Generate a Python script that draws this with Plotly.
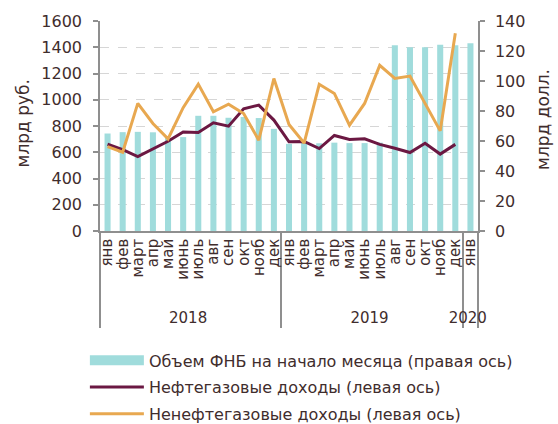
import plotly.graph_objects as go

# ---- data ----
years = ['2018'] * 12 + ['2019'] * 12 + ['2020']
months = ['янв', 'фев', 'март', 'апр', 'май', 'июнь', 'июль', 'авг', 'сен', 'окт', 'нояб', 'дек'] * 2 + ['янв']

# Объем ФНБ на начало месяца, млрд долл. (правая ось)
nwf_usd = [65.0, 65.9, 66.1, 65.8, 62.0, 62.6, 76.8, 76.8, 75.5, 76.0, 75.3, 68.1,
           58.1, 58.8, 58.5, 58.9, 58.6, 58.6, 58.9, 123.8, 122.5, 122.5, 124.2, 123.8,
           125.1]

# Нефтегазовые доходы, млрд руб. (левая ось)
oil_gas = [661, 620, 567, 628, 684, 755, 750, 824, 799, 931, 959, 845,
           680, 682, 628, 728, 697, 702, 660, 630, 598, 669, 586, 660]

# Ненефтегазовые доходы, млрд руб. (левая ось)
non_oil_gas = [643, 600, 972, 819, 702, 940, 1119, 908, 966, 895, 692, 1162,
               812, 670, 1118, 1048, 806, 972, 1262, 1162, 1180, 972, 763, 1506]

names = ['Объем ФНБ на начало месяца (правая ось)',
         'Нефтегазовые доходы (левая ось)',
         'Ненефтегазовые доходы (левая ось)']
axis_titles = ['млрд руб.', 'млрд долл.']

FONT = 'DejaVu Sans'
TXT = '#3f2d2d'
AX = '#8f8f8f'
BAR_C = '#a0dcdc'

# leading no-break spaces lengthen the rotated month labels' box downward,
# which pushes the year row lower (as in the original); visible text unchanged
PAD = '\u00a0' * 3
month_lbl = [PAD + m for m in months]
x_all = [years, month_lbl]
x_lines = [years[:len(oil_gas)], month_lbl[:len(oil_gas)]]

fig = go.Figure()
fig.add_trace(go.Bar(x=x_all, y=nwf_usd, name=names[0], yaxis='y', showlegend=False,
                     marker=dict(color=BAR_C, line=dict(width=0)), width=0.4))
# legend entry for the bars (wide swatch, as in the original)
fig.add_trace(go.Scatter(x=[None], y=[None], name=names[0], yaxis='y', mode='lines',
                         line=dict(color=BAR_C, width=10), legendgroup='a',
                         hoverinfo='skip'))
fig.add_trace(go.Scatter(x=x_lines, y=oil_gas, name=names[1], yaxis='y2', mode='lines',
                         line=dict(color='#6b1842', width=3), legendgroup='b'))
fig.add_trace(go.Scatter(x=x_lines, y=non_oil_gas, name=names[2], yaxis='y2', mode='lines',
                         line=dict(color='#e8a850', width=3), legendgroup='c'))

fig.update_layout(
    width=558, height=424,
    margin=dict(l=100, r=80, t=21, b=193, autoexpand=False),
    paper_bgcolor='white', plot_bgcolor='white',
    font=dict(family=FONT, size=15, color=TXT),
    showlegend=True,
    legend=dict(orientation='v', x=-0.04, xanchor='left', y=-0.535, yanchor='top',
                font=dict(size=16, color=TXT), bgcolor='rgba(0,0,0,0)',
                itemwidth=54, tracegroupgap=3),
    bargap=0.6,
    xaxis=dict(type='multicategory', tickangle=-90, showline=True, linecolor=AX, linewidth=1.5,
               showgrid=False, ticks='outside', ticklen=10, tickcolor='rgba(0,0,0,0)',
               showdividers=True, dividercolor=AX, dividerwidth=1.5,
               tickmode='linear', tick0=0, dtick=1,
               tickfont=dict(size=15, color=TXT), automargin=False),
    # right axis (base) for bars
    yaxis=dict(side='right', range=[0, 140], dtick=20, showgrid=False, showline=True,
               linecolor=AX, linewidth=1.5, ticks='outside', ticklen=5, tickcolor=AX,
               tickwidth=1.5, ticklabelstandoff=7, tickfont=dict(size=16, color=TXT),
               zeroline=False, automargin=False),
    # left axis overlaying, with grid
    yaxis2=dict(side='left', overlaying='y', anchor='x', range=[0, 1600], dtick=200,
                showgrid=True, gridcolor='#d6d6d6', griddash='dash', gridwidth=1,
                showline=True, linecolor=AX, linewidth=1.5, ticks='outside', ticklen=5,
                tickcolor=AX, tickwidth=1.5, ticklabelstandoff=8,
                tickfont=dict(size=16, color=TXT), zeroline=False, automargin=False),
    annotations=[
        dict(text=axis_titles[0], xref='paper', yref='paper', x=-0.205, y=0.51,
             textangle=-90, showarrow=False, font=dict(size=17, color=TXT),
             xanchor='center', yanchor='middle'),
        dict(text=axis_titles[1], xref='paper', yref='paper', x=1.172, y=0.529,
             textangle=-90, showarrow=False, font=dict(size=17, color=TXT),
             xanchor='center', yanchor='middle'),
    ],
)

# remove the default 8px page margin so the 558x424 figure fills the window
fig.write_html('out.html', config={'displayModeBar': False},
               post_script="document.body.style.margin='0';document.body.style.overflow='hidden';")
